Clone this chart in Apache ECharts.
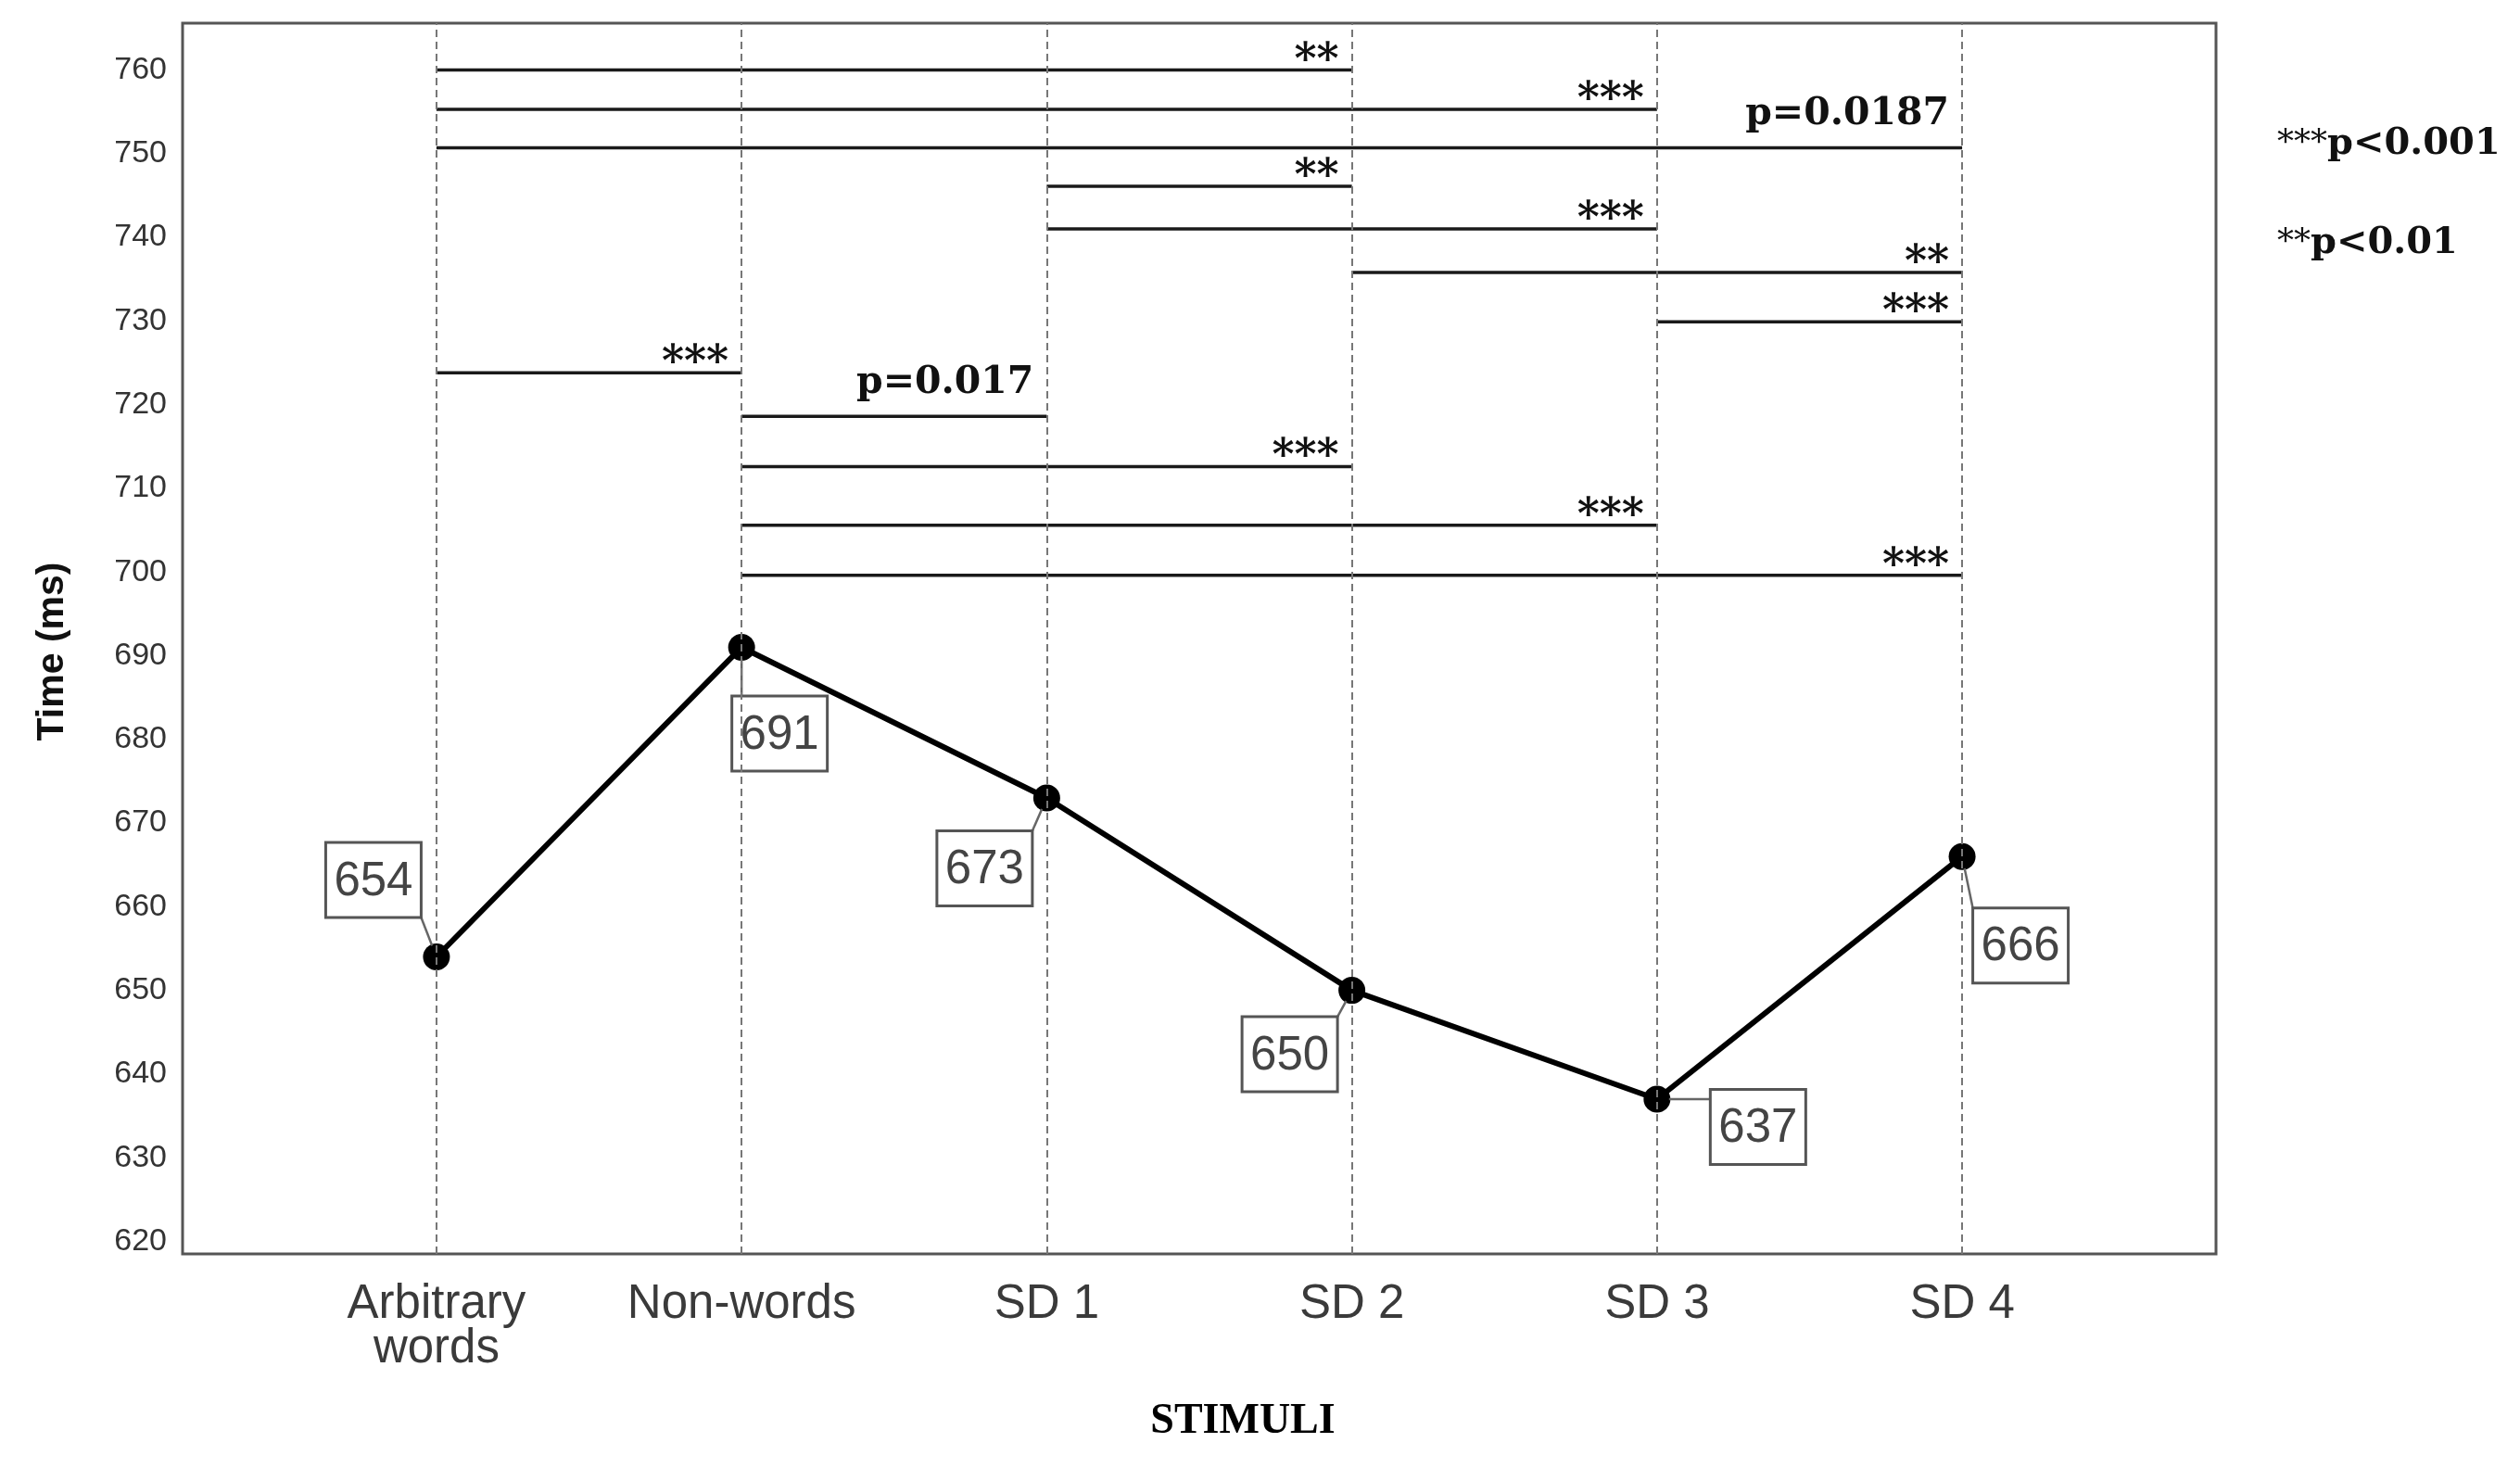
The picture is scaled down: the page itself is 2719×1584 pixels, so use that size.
<!DOCTYPE html>
<html>
<head>
<meta charset="utf-8">
<script src="https://cdn.jsdelivr.net/npm/echarts@6/dist/echarts.min.js"></script>
<style>
html,body{margin:0;padding:0;background:#ffffff;}
#chart{width:2719px;height:1584px;}
</style>
</head>
<body>
<div id="chart"></div>
<script>
// ---- data ----
const categories = ['Arbitrary\nwords', 'Non-words', 'SD 1', 'SD 2', 'SD 3', 'SD 4'];
const meanTimes = [654, 691, 673, 650, 637, 666];
const yTickValues = [620, 630, 640, 650, 660, 670, 680, 690, 700, 710, 720, 730, 740, 750, 760];

// pairwise comparison brackets (category index from / to, level in ms, mark)
const pairFrom  = [0, 0, 0, 2, 2, 3, 4, 0, 1, 1, 1, 1];
const pairTo    = [3, 4, 5, 3, 4, 5, 5, 1, 2, 3, 4, 5];
const pairLevel = [760, 755.3, 750.7, 746.1, 741, 735.8, 729.9, 723.8, 718.6, 712.6, 705.6, 699.6];
const pairMark  = ['**', '***', 'p=0.0187', '**', '***', '**', '***', '***', 'p=0.017', '***', '***', '***'];

const noteStars = ['***', '**'];
const noteText  = ['p<0.001', 'p<0.01'];

// label box displacement (pixels) – styling only
const labelShift = [[-68, -83], [41, 93], [-67, 76], [-67, 69], [109, 30], [63, 96]];

const chart = echarts.init(document.getElementById('chart'), null, {renderer: 'canvas'});

const option = {
  backgroundColor: '#ffffff',
  animation: false,
  grid: {
    left: 197, right: 328, top: 25, bottom: 231,
    show: true, borderColor: '#555555', borderWidth: 3, backgroundColor: 'transparent'
  },
  xAxis: {
    type: 'value',
    min: -0.832, max: 5.832,
    splitLine: {show: false},
    axisTick: {show: false},
    axisLine: {show: false},
    axisLabel: {
      customValues: categories.map((c, i) => i),
      formatter: v => categories[Math.round(v)] || '',
      fontFamily: 'Liberation Sans',
      fontSize: 51,
      lineHeight: 48,
      color: '#3a3a3a',
      margin: 31
    },
    name: 'STIMULI',
    nameLocation: 'middle',
    nameGap: 158,
    nameTextStyle: {
      fontFamily: 'Liberation Serif', fontWeight: 'bold', fontSize: 46, color: '#000000',
      padding: [0, 0, 0, 94]
    }
  },
  yAxis: {
    type: 'value',
    min: 618.5, max: 765.6,
    splitLine: {show: false},
    axisTick: {show: false},
    axisLine: {show: false},
    axisLabel: {
      customValues: yTickValues,
      fontFamily: 'Liberation Sans',
      fontSize: 34,
      color: '#333333',
      margin: 17
    },
    name: 'Time (ms)',
    nameLocation: 'middle',
    nameGap: 120,
    nameTextStyle: {
      fontFamily: 'Liberation Sans', fontWeight: 'bold', fontSize: 41, color: '#111111',
      padding: [0, 28, 0, 0]
    }
  },
  series: [
    {
      type: 'custom',
      z: 2,
      silent: true,
      data: pairFrom.map((f, i) => [f, pairTo[i], pairLevel[i]]),
      encode: {x: [0, 1], y: 2},
      renderItem: function (params, api) {
        const a = api.coord([api.value(0), api.value(2)]);
        const b = api.coord([api.value(1), api.value(2)]);
        const txt = pairMark[params.dataIndex];
        const isP = txt.charAt(0) === 'p';
        return {
          type: 'group',
          children: [
            {type: 'line', shape: {x1: a[0], y1: a[1], x2: b[0], y2: b[1]},
             style: {stroke: '#1a1a1a', lineWidth: 3.5}},
            {type: 'text',
             style: {
               text: txt,
               x: b[0] - 14,
               y: b[1] - (isP ? 36 : 9),
               align: 'right',
               verticalAlign: 'middle',
               fill: '#111111',
               font: 'bold ' + (isP ? 41 : 46) + 'px "DejaVu Serif"'
             }}
          ]
        };
      },
      markLine: {
        silent: true,
        symbol: ['none', 'none'],
        label: {show: false},
        lineStyle: {color: '#777777', width: 2, type: [8, 5]},
        data: categories.map((c, i) => ({xAxis: i}))
      }
    },
    {
      type: 'line',
      z: 3,
      silent: true,
      data: meanTimes.map((v, i) => [i, v]),
      symbol: 'circle',
      symbolSize: 29,
      itemStyle: {color: '#000000'},
      lineStyle: {color: '#000000', width: 6},
      label: {show: false}
    },
    {
      type: 'custom',
      z: 4,
      silent: true,
      data: meanTimes.map((v, i) => [i, v]),
      encode: {x: 0, y: 1},
      renderItem: function (params, api) {
        const p = api.coord([api.value(0), api.value(1)]);
        const s = labelShift[params.dataIndex];
        const w = 103, h = 81;
        const cx = p[0] + s[0], cy = p[1] + s[1];
        const x0 = cx - w / 2, y0 = cy - h / 2;
        const nx = Math.min(Math.max(p[0], x0), x0 + w);
        const ny = Math.min(Math.max(p[1], y0), y0 + h);
        const dx = nx - p[0], dy = ny - p[1];
        const len = Math.sqrt(dx * dx + dy * dy) || 1;
        const r = 13;
        return {
          type: 'group',
          children: [
            {type: 'line',
             shape: {x1: p[0] + dx / len * r, y1: p[1] + dy / len * r, x2: nx, y2: ny},
             style: {stroke: '#666666', lineWidth: 2.5}},
            {type: 'rect',
             shape: {x: x0, y: y0, width: w, height: h},
             style: {fill: '#ffffff', stroke: '#555555', lineWidth: 3}},
            {type: 'text',
             style: {
               text: String(meanTimes[params.dataIndex]),
               x: cx, y: cy + 2,
               align: 'center', verticalAlign: 'middle',
               fill: '#444444',
               font: '51px "Liberation Sans"'
             }}
          ]
        };
      }
    }
  ],
  graphic: noteStars.map((s, i) => ({
    type: 'text',
    x: 2457,
    y: i === 0 ? 156 : 263,
    style: {
      text: '{s|' + s + '}{p|' + noteText[i] + '}',
      verticalAlign: 'middle',
      rich: {
        s: {fontFamily: 'DejaVu Serif', fontSize: 36, fontWeight: 'normal', fill: '#111111'},
        p: {fontFamily: 'DejaVu Serif', fontSize: 40, fontWeight: 'bold', fill: '#111111'}
      }
    }
  }))
};

chart.setOption(option);
</script>
</body>
</html>
